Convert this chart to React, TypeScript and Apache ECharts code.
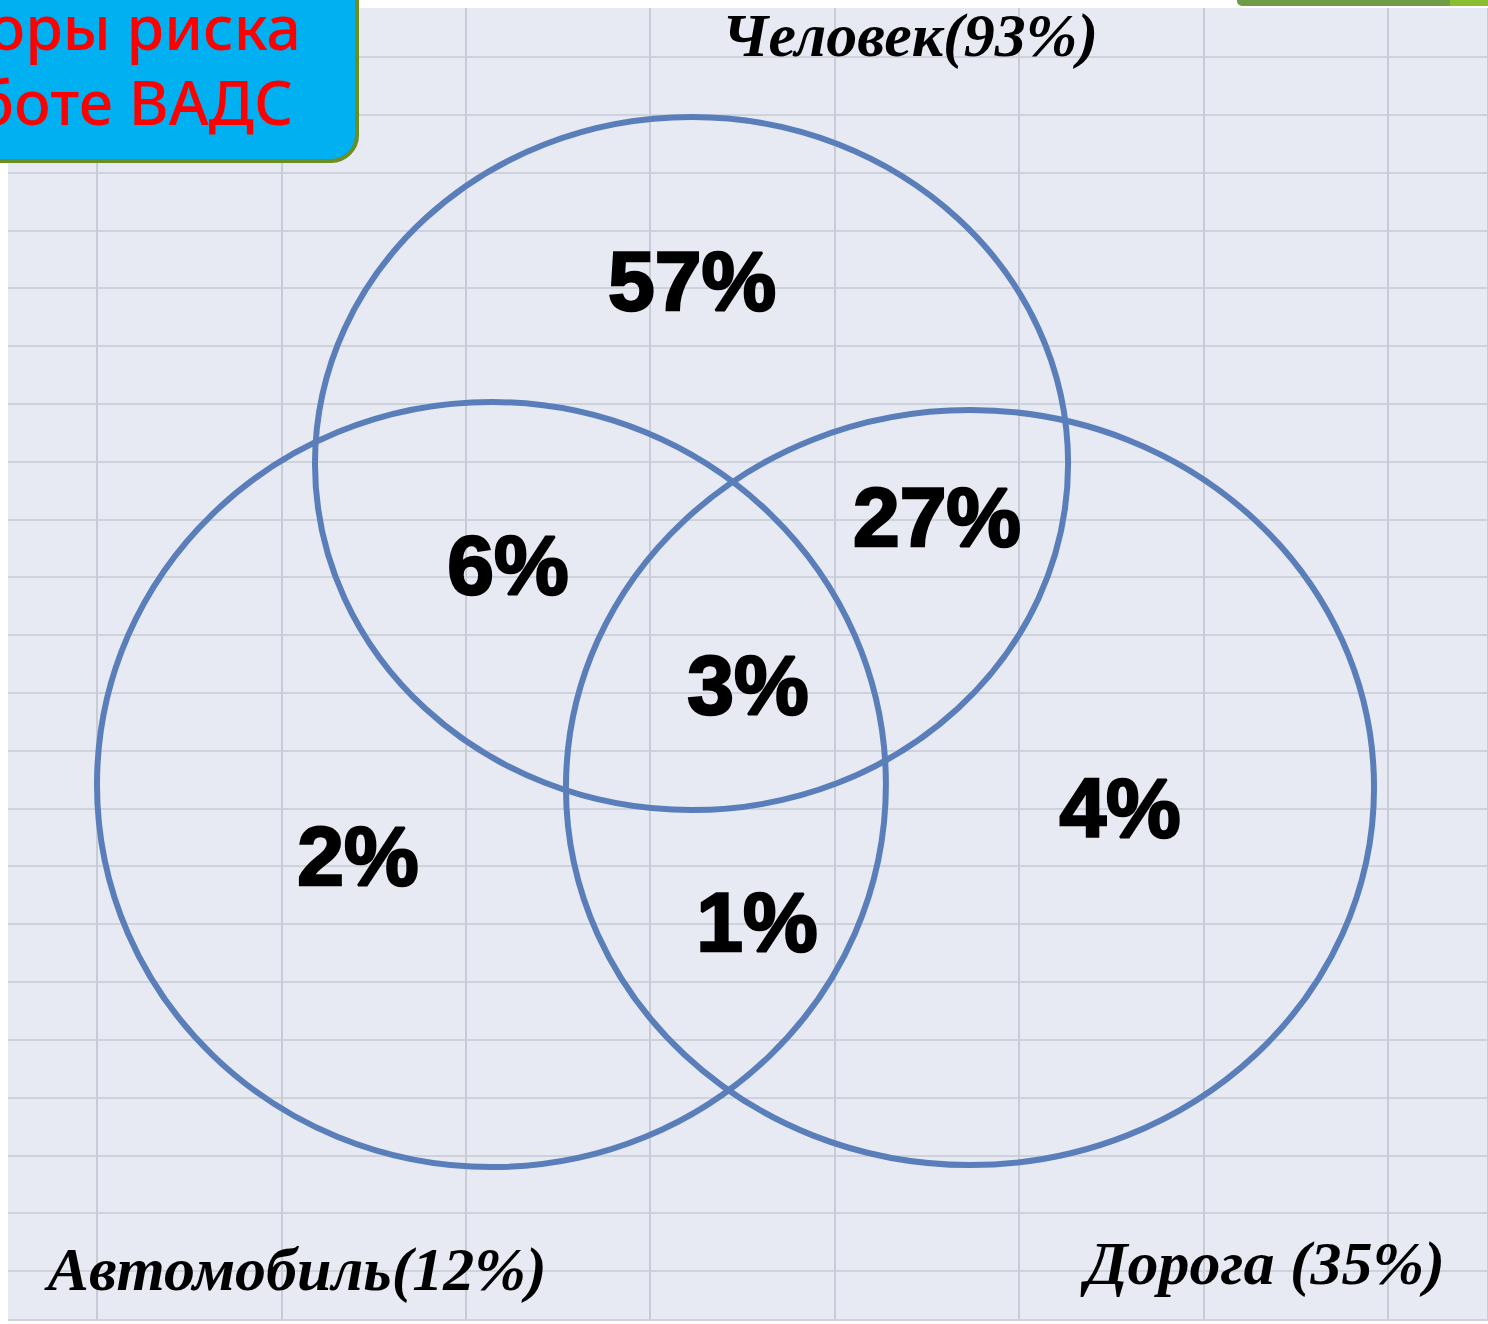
import React, { useEffect, useRef } from "react";
import * as echarts from "echarts";

// Sheet cell units (columns / rows of the background grid)
const setNames = ["Человек(93%)", "Автомобиль(12%)", "Дорога (35%)"];
// circle centres and radii in cell units
const circleX = [3.224, 2.139, 4.734];
const circleY = [7.033, 12.587, 12.638];
const circleRX = [2.042, 2.139, 2.191];
const circleRY = [5.995, 6.618, 6.531];
// set name label anchors
const setLabelX = [4.409, 1.085, 6.334];
const setLabelY = [-0.38, 20.96, 20.86];

// region values
const regionLabels = ["57%", "6%", "27%", "3%", "2%", "4%", "1%"];
const regionX = [3.227, 2.229, 4.555, 3.53, 1.415, 5.548, 3.579];
const regionY = [3.88, 8.78, 7.95, 10.86, 13.83, 13.0, 14.96];

const titleLines = ["Факторы риска", "в работе ВАДС"];

const X_MAX = 7.543;
const Y_MAX = 21.85;

export default function App() {
  const ref = useRef<HTMLDivElement>(null);
  useEffect(() => {
    if (!ref.current) return;
    const chart = echarts.init(ref.current, null, { renderer: "svg" });
    const circles = circleX.map((x, i) => [x, circleY[i], circleRX[i], circleRY[i]]);
    const regions = regionLabels.map((n, i) => ({ name: n, value: [regionX[i], regionY[i]] }));
    const sets = setNames.map((n, i) => ({ name: n, value: [setLabelX[i], setLabelY[i]] }));
    const vLine = { show: true, lineStyle: { color: "#c8ccd6", width: 2 } };
    const hLine = { show: true, lineStyle: { color: "#ced2db", width: 2 } };
    const hidden = { axisLine: { show: false }, axisTick: { show: false }, axisLabel: { show: false } };
    chart.setOption({
      animation: false,
      backgroundColor: "#ffffff",
      grid: [
        { left: 97, right: 0, top: 57, bottom: 4, show: true, backgroundColor: "#e7eaf3", borderWidth: 0 },
        { left: 8, width: 89, top: 57, bottom: 4, show: true, backgroundColor: "#e7eaf3", borderWidth: 0 },
        { left: 97, right: 0, top: 8, height: 49, show: true, backgroundColor: "#e7eaf3", borderWidth: 0 },
        { left: 8, width: 89, top: 8, height: 49, show: true, backgroundColor: "#e7eaf3", borderWidth: 0 },
      ],
      xAxis: [
        { gridIndex: 0, type: "value", min: 0, max: X_MAX, interval: 1, ...hidden, splitLine: vLine },
        { gridIndex: 1, type: "value", min: 0, max: 1, ...hidden, splitLine: { show: false } },
        { gridIndex: 2, type: "value", min: 0, max: X_MAX, interval: 1, ...hidden, splitLine: vLine },
        { gridIndex: 3, type: "value", min: 0, max: 1, ...hidden, splitLine: { show: false } },
      ],
      yAxis: [
        { gridIndex: 0, type: "value", inverse: true, min: 0, max: Y_MAX, interval: 1, ...hidden, splitLine: hLine },
        { gridIndex: 1, type: "value", inverse: true, min: 0, max: Y_MAX, interval: 1, ...hidden, splitLine: hLine },
        { gridIndex: 2, type: "value", inverse: true, min: 0, max: 1, ...hidden, splitLine: { show: false } },
        { gridIndex: 3, type: "value", inverse: true, min: 0, max: 1, ...hidden, splitLine: { show: false } },
      ],
      series: [
        {
          type: "custom",
          xAxisIndex: 0,
          yAxisIndex: 0,
          data: circles,
          clip: false,
          renderItem: (params: any, api: any) => {
            const c = api.coord([api.value(0), api.value(1)]);
            const s = api.size([api.value(2), api.value(3)]);
            return {
              type: "ellipse",
              shape: { cx: c[0], cy: c[1], rx: s[0], ry: s[1] },
              style: { fill: "none", stroke: "#5a7eb9", lineWidth: 6 },
            };
          },
          z: 3,
        },
        {
          type: "scatter",
          xAxisIndex: 0,
          yAxisIndex: 0,
          data: regions,
          symbolSize: 0,
          clip: false,
          z: 4,
          itemStyle: { opacity: 1 },
          label: {
            show: true,
            position: "inside",
            formatter: "{b}",
            fontFamily: "Liberation Sans",
            fontWeight: 900,
            fontSize: 84,
            color: "#000000",
            textBorderColor: "#000000",
            textBorderWidth: 2.5,
          },
        },
        {
          type: "scatter",
          xAxisIndex: 0,
          yAxisIndex: 0,
          data: sets,
          symbolSize: 0,
          clip: false,
          z: 4,
          itemStyle: { opacity: 1 },
          label: {
            show: true,
            position: "inside",
            formatter: "{b}",
            fontFamily: "Liberation Serif",
            fontStyle: "italic",
            fontWeight: "bold",
            fontSize: 62,
            color: "#000000",
          },
        },
      ],
      graphic: [
        { type: "rect", z: 60, shape: { x: 1237, y: -10, width: 251, height: 16, r: 5 }, style: { fill: "#6f9c47" } },
        { type: "rect", z: 61, shape: { x: 1450, y: -10, width: 38, height: 16 }, style: { fill: "#8bbd33" } },
        {
          type: "rect",
          z: 70,
          shape: { x: -30, y: -30, width: 387, height: 191, r: 26 },
          style: { fill: "#00b0f0", stroke: "#6b8e23", lineWidth: 4 },
        },
        {
          type: "text",
          z: 71,
          style: {
            text: titleLines[0],
            x: 301,
            y: 26,
            align: "right",
            verticalAlign: "middle",
            font: "500 61px 'Noto Sans'",
            lineHeight: 60,
            fill: "#ff0000",
          },
        },
        {
          type: "text",
          z: 71,
          style: {
            text: titleLines[1],
            x: 293,
            y: 101,
            align: "right",
            verticalAlign: "middle",
            font: "500 61px 'Noto Sans'",
            lineHeight: 60,
            fill: "#ff0000",
          },
        },
      ],
    });
    return () => chart.dispose();
  }, []);
  return (
    <div
      ref={ref}
      style={{ position: "absolute", left: 0, top: 0, width: 1488, height: 1324 }}
    />
  );
}
